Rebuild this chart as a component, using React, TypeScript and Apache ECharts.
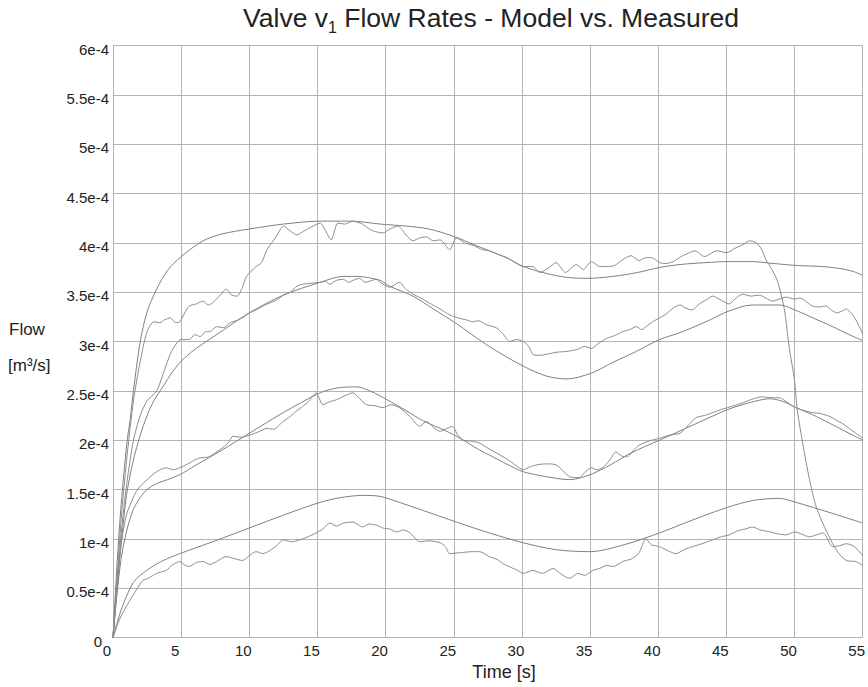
import React, { useEffect, useRef } from "react";
import * as echarts from "echarts";

// Values in units of 1e-4 m^3/s, time in seconds
const model1: number[][] = [[0,0],[0.3,0.75],[0.6,1.35],[1.0,1.95],[1.25,2.2],[1.5,2.5],[2.0,3.0],[2.5,3.3],[3.2,3.53],[4.0,3.72],[5.0,3.86],[6.6,4.02],[8.0,4.09],[10.0,4.14],[12.5,4.19],[15.2,4.22],[17.5,4.22],[19.6,4.19],[21.5,4.17],[23.2,4.14],[25.1,4.06],[26.5,3.98],[27.6,3.92],[29,3.84],[30.1,3.76],[31.8,3.69],[33.3,3.65],[34.7,3.64],[36.7,3.66],[38.5,3.7],[40.1,3.75],[41.6,3.78],[43.5,3.8],[45.2,3.81],[46.9,3.81],[48.5,3.79],[50.2,3.77],[52,3.76],[53.3,3.74],[54.3,3.71],[55,3.67]];

const measured1: number[][] = [[0,0],[0.3,0.6],[0.6,1.2],[1.0,1.8],[1.5,2.4],[2.0,2.8],[2.5,3.1],[3.0,3.2],[3.45,3.19],[3.8,3.22],[4.2,3.24],[4.6,3.19],[4.9,3.2],[5.3,3.3],[5.6,3.36],[6.1,3.38],[6.6,3.41],[7.0,3.37],[7.3,3.39],[7.8,3.46],[8.3,3.53],[8.7,3.47],[9.1,3.46],[9.5,3.55],[9.8,3.66],[10.5,3.76],[10.9,3.8],[11.3,3.93],[12.0,4.07],[12.5,4.17],[13.0,4.12],[13.5,4.08],[14.0,4.12],[14.4,4.15],[15.2,4.2],[15.6,4.12],[16.0,4.03],[16.5,4.2],[17.0,4.19],[17.6,4.22],[18.3,4.19],[18.7,4.15],[19.1,4.12],[19.8,4.1],[20.3,4.14],[20.9,4.17],[21.5,4.08],[22.0,4.02],[22.5,4.05],[23.0,4.06],[23.5,4.02],[24.0,4.03],[24.7,3.93],[25.2,4.05],[25.8,4.0],[26.5,3.97],[27.1,3.93],[27.6,3.92],[28.3,3.88],[28.9,3.85],[29.5,3.8],[30.1,3.76],[30.8,3.76],[31.3,3.7],[32.0,3.75],[32.5,3.8],[33.2,3.7],[34.0,3.78],[34.5,3.73],[35.1,3.81],[35.7,3.76],[36.2,3.76],[36.8,3.77],[37.4,3.83],[38.0,3.87],[38.6,3.82],[39.1,3.85],[39.5,3.85],[40.1,3.8],[40.5,3.79],[41.1,3.81],[41.8,3.87],[42.3,3.9],[42.7,3.92],[43.4,3.86],[44.3,3.92],[45.0,3.9],[45.7,3.95],[46.2,3.98],[46.7,4.02],[47.2,4.0],[47.6,3.93],[47.9,3.83],[48.3,3.74],[48.7,3.63],[49.0,3.49],[49.3,3.29],[49.6,2.95],[50.0,2.61],[50.2,2.31],[50.6,1.97],[51.1,1.6],[51.6,1.32],[52.3,1.09],[53.1,0.88],[53.8,0.78],[54.5,0.77],[55,0.73]];

const model2: number[][] = [[0,0],[0.3,0.5],[0.6,0.95],[1.0,1.45],[1.5,1.8],[2.0,2.05],[2.5,2.25],[3.0,2.4],[3.7,2.55],[4.3,2.68],[5.0,2.8],[6.0,2.92],[7.5,3.06],[10.0,3.29],[12.5,3.47],[15.2,3.6],[16.9,3.66],[18.0,3.66],[18.6,3.65],[19.6,3.62],[20.3,3.56],[22.0,3.46],[23.5,3.33],[25.1,3.19],[27.6,2.95],[30.1,2.75],[31.8,2.65],[33.3,2.62],[35.1,2.68],[36.7,2.79],[38.4,2.9],[40.1,3.02],[41.6,3.09],[43.5,3.2],[45.2,3.31],[46.9,3.37],[48.9,3.37],[50.2,3.31],[51.5,3.23],[52.8,3.15],[54,3.07],[55,3.01]];

const measured2: number[][] = [[0,0],[0.3,0.55],[0.6,1.05],[1.0,1.55],[1.5,2.0],[2.0,2.25],[2.5,2.4],[3.2,2.5],[3.8,2.72],[4.3,2.9],[5.0,3.02],[5.6,3.02],[6.0,3.07],[6.4,3.05],[6.8,3.1],[7.1,3.1],[7.6,3.15],[8.1,3.14],[8.6,3.19],[9.2,3.22],[9.6,3.25],[10.0,3.29],[10.5,3.32],[11.0,3.36],[11.5,3.39],[12.0,3.42],[12.5,3.47],[13.0,3.5],[13.5,3.56],[13.9,3.58],[14.5,3.59],[15.2,3.6],[15.6,3.61],[15.9,3.58],[16.4,3.62],[16.9,3.63],[17.3,3.6],[17.6,3.62],[18.1,3.64],[18.5,3.6],[18.8,3.61],[19.3,3.63],[19.6,3.6],[20.3,3.55],[21.0,3.6],[21.5,3.53],[22.0,3.48],[22.6,3.44],[23.2,3.39],[24.0,3.33],[24.7,3.27],[25.3,3.24],[25.9,3.22],[26.4,3.2],[26.8,3.21],[27.4,3.17],[28.1,3.14],[28.6,3.08],[29.1,3.0],[29.6,3.02],[30.1,3.0],[30.5,2.95],[30.8,2.87],[31.3,2.86],[31.8,2.87],[32.5,2.89],[33.3,2.9],[34.1,2.92],[34.6,2.95],[35.1,2.93],[35.6,2.98],[36.2,3.03],[36.8,3.06],[37.4,3.1],[37.9,3.12],[38.4,3.15],[38.8,3.12],[39.1,3.15],[39.6,3.2],[40.1,3.24],[40.6,3.28],[41.1,3.34],[41.6,3.37],[42.0,3.34],[42.5,3.32],[43.0,3.38],[43.5,3.42],[44.0,3.46],[44.6,3.42],[45.2,3.38],[45.7,3.44],[46.2,3.48],[46.8,3.46],[47.4,3.47],[47.9,3.44],[48.4,3.41],[48.9,3.43],[49.4,3.45],[50.0,3.43],[50.4,3.44],[50.9,3.4],[51.3,3.36],[51.8,3.35],[52.3,3.36],[52.7,3.32],[53.1,3.29],[53.5,3.31],[53.8,3.33],[54.2,3.28],[54.5,3.22],[55.0,3.08]];

const model3: number[][] = [[0,0],[0.3,0.45],[0.6,0.8],[1.0,1.08],[1.5,1.3],[2.0,1.42],[2.5,1.5],[3.2,1.56],[4.0,1.6],[4.9,1.65],[6.0,1.74],[8.0,1.9],[10.0,2.07],[12.5,2.28],[15.2,2.48],[16.5,2.53],[17.9,2.54],[19.0,2.49],[20.1,2.41],[21.5,2.3],[22.7,2.2],[24.0,2.12],[25.2,2.04],[26.9,1.9],[27.6,1.85],[29,1.75],[30.1,1.68],[31.8,1.63],[33.5,1.6],[35.0,1.65],[36.5,1.75],[38,1.87],[40.1,2.0],[42.5,2.15],[45.1,2.31],[46.7,2.38],[48.2,2.42],[49.2,2.39],[50.1,2.33],[51.3,2.26],[52.6,2.17],[54,2.07],[55,2.0]];

const measured3: number[][] = [[0,0],[0.3,0.55],[0.6,0.95],[1.0,1.25],[1.5,1.42],[1.8,1.5],[2.5,1.6],[3.2,1.68],[3.9,1.72],[4.4,1.7],[4.9,1.72],[5.5,1.76],[6.0,1.8],[6.4,1.82],[7.0,1.83],[7.6,1.88],[8.1,1.93],[8.5,1.98],[8.8,2.04],[9.4,2.03],[10.0,2.05],[10.6,2.08],[11.3,2.12],[11.8,2.11],[12.4,2.18],[13.0,2.24],[13.5,2.3],[13.9,2.34],[14.4,2.4],[14.9,2.48],[15.4,2.36],[15.9,2.39],[16.4,2.41],[17.0,2.45],[17.6,2.48],[18.1,2.42],[18.6,2.36],[19.2,2.35],[19.8,2.33],[20.4,2.36],[21.0,2.33],[21.8,2.24],[22.5,2.14],[23.0,2.19],[23.5,2.13],[24.0,2.09],[24.5,2.12],[24.9,2.14],[25.3,2.05],[25.7,2.0],[26.3,1.99],[26.9,1.97],[27.5,1.92],[28.0,1.88],[28.4,1.85],[29.0,1.8],[29.5,1.75],[30.1,1.7],[30.6,1.73],[31.1,1.75],[31.8,1.76],[32.5,1.75],[33.0,1.69],[33.5,1.63],[34.2,1.62],[34.6,1.67],[35.1,1.72],[35.5,1.7],[35.9,1.72],[36.4,1.79],[36.9,1.88],[37.3,1.84],[37.7,1.83],[38.2,1.9],[38.6,1.95],[39.3,1.99],[40.1,2.02],[40.8,2.05],[41.6,2.07],[42.2,2.15],[42.8,2.23],[43.4,2.25],[44.0,2.28],[44.6,2.31],[45.1,2.33],[45.8,2.36],[46.4,2.39],[47.0,2.42],[47.6,2.44],[48.2,2.43],[48.9,2.43],[49.5,2.38],[50.1,2.33],[50.7,2.3],[51.3,2.28],[51.9,2.27],[52.6,2.24],[53.1,2.2],[53.5,2.17],[54.2,2.1],[55.0,2.02]];

const model4: number[][] = [[0,0],[0.3,0.15],[0.6,0.28],[1.0,0.42],[1.5,0.56],[2.0,0.63],[3.0,0.73],[4.0,0.8],[4.9,0.85],[7.5,0.98],[10.0,1.11],[12.5,1.24],[15.2,1.37],[16.8,1.42],[18.3,1.44],[19.6,1.43],[21,1.37],[22.7,1.29],[25.2,1.17],[27.6,1.06],[30.1,0.96],[32.5,0.89],[35.0,0.87],[37.5,0.94],[40.1,1.06],[42.5,1.19],[45.1,1.32],[47,1.39],[48.9,1.41],[50.1,1.37],[52.5,1.27],[55,1.16]];

const measured4: number[][] = [[0,0],[0.3,0.12],[0.6,0.22],[1.0,0.32],[1.25,0.38],[1.7,0.48],[2.2,0.58],[2.6,0.6],[3.2,0.65],[3.9,0.68],[4.4,0.74],[4.9,0.77],[5.3,0.73],[5.6,0.72],[6.1,0.76],[6.6,0.77],[7.1,0.74],[7.6,0.77],[8.3,0.82],[8.9,0.8],[9.5,0.78],[10.0,0.83],[10.5,0.87],[11.0,0.85],[11.5,0.88],[12.0,0.93],[12.5,0.99],[13.1,0.97],[13.7,0.99],[14.3,1.02],[14.9,1.06],[15.4,1.1],[15.9,1.16],[16.4,1.13],[16.9,1.16],[17.6,1.17],[17.9,1.15],[18.3,1.12],[18.8,1.15],[19.3,1.14],[19.8,1.11],[20.3,1.1],[20.8,1.07],[21.3,1.09],[21.8,1.06],[22.5,0.97],[23.2,0.98],[24.0,0.96],[24.4,0.92],[24.7,0.85],[25.5,0.86],[26.4,0.87],[26.9,0.87],[27.6,0.82],[28.2,0.79],[28.6,0.75],[29.2,0.71],[29.7,0.68],[30.1,0.65],[30.8,0.68],[31.5,0.65],[32.3,0.7],[32.9,0.64],[33.5,0.6],[34.1,0.65],[34.6,0.63],[35.2,0.68],[35.7,0.7],[36.2,0.73],[36.7,0.72],[37.4,0.77],[38.1,0.8],[38.6,0.86],[39.1,1.0],[39.5,0.94],[40.1,0.92],[40.7,0.88],[41.3,0.85],[41.9,0.89],[42.5,0.92],[43.2,0.95],[44.0,0.99],[44.6,1.02],[45.2,1.04],[45.8,1.08],[46.4,1.1],[46.9,1.12],[47.5,1.09],[48.2,1.07],[48.8,1.05],[49.4,1.04],[50.0,1.07],[50.5,1.05],[51.1,1.02],[51.6,1.04],[52.1,1.06],[52.8,0.92],[53.3,0.93],[53.8,0.95],[54.3,0.93],[54.7,0.88],[55.0,0.83]];

const seriesList: { name: string; data: number[][]; measured: boolean }[] = [
  { name: "Model 1", data: model1, measured: false },
  { name: "Measured 1", data: measured1, measured: true },
  { name: "Model 2", data: model2, measured: false },
  { name: "Measured 2", data: measured2, measured: true },
  { name: "Model 3", data: model3, measured: false },
  { name: "Measured 3", data: measured3, measured: true },
  { name: "Model 4", data: model4, measured: false },
  { name: "Measured 4", data: measured4, measured: true },
];

const FONT = "'Liberation Sans', Arial, sans-serif";
const TEXT = "#222";
const GRID = "#b4b4b4";
const LINE_MODEL = "#808080";
const LINE_MEAS = "#8c8c8c";

export default function App() {
  const ref = useRef<HTMLDivElement>(null);
  useEffect(() => {
    if (!ref.current) return;
    const chart = echarts.init(ref.current, undefined, { renderer: "svg" });
    chart.setOption({
      animation: false,
      backgroundColor: "#fff",
      grid: { left: 113, right: 2, top: 45.5, bottom: 49.5, containLabel: false },
      xAxis: {
        type: "value",
        min: 0,
        max: 55,
        interval: 5,
        axisLine: { show: true, lineStyle: { color: GRID, width: 1 } },
        axisTick: { show: false },
        splitLine: { show: true, lineStyle: { color: GRID, width: 1 } },
        axisLabel: {
          fontFamily: FONT,
          fontSize: 15,
          color: TEXT,
          margin: 5,
          padding: [0, 12, 0, 0],
        },
      },
      yAxis: {
        type: "value",
        min: 0,
        max: 6,
        interval: 0.5,
        axisLine: { show: true, lineStyle: { color: GRID, width: 1 } },
        axisTick: { show: false },
        splitLine: { show: true, lineStyle: { color: GRID, width: 1 } },
        axisLabel: {
          fontFamily: FONT,
          fontSize: 15,
          color: TEXT,
          margin: 4,
          padding: [7, 0, 0, 0],
          formatter: (v: number) => (v === 0 ? "{z|0}" : `${v}e-4`),
          rich: {
            z: { fontFamily: FONT, fontSize: 15, color: TEXT, padding: [0, 7, 0, 0] },
          },
        },
      },
      series: seriesList.map((s) => ({
        name: s.name,
        type: "line",
        data: s.data,
        showSymbol: false,
        symbol: "none",
        clip: true,
        smooth: s.measured ? 0.25 : 0.3,
        lineStyle: { color: s.measured ? LINE_MEAS : LINE_MODEL, width: 1 },
        emphasis: { disabled: true },
      })),
      graphic: [
        {
          type: "text",
          x: 491,
          y: 1,
          style: {
            text: "{a|Valve v}{s|1}{a| Flow Rates - Model vs. Measured}",
            align: "center",
            verticalAlign: "top",
            rich: {
              a: { fontFamily: FONT, fontSize: 26.5, fill: TEXT, lineHeight: 34 },
              s: { fontFamily: FONT, fontSize: 16, fill: TEXT, lineHeight: 14, verticalAlign: "bottom" },
            },
          },
        },
        {
          type: "text",
          x: 9,
          y: 329.5,
          style: { text: "Flow", fontFamily: FONT, fontSize: 17, fill: TEXT, align: "left", verticalAlign: "middle" },
        },
        {
          type: "text",
          x: 8,
          y: 365,
          style: { text: "[m³/s]", fontFamily: FONT, fontSize: 17, fill: TEXT, align: "left", verticalAlign: "middle" },
        },
        {
          type: "text",
          x: 504,
          y: 672,
          style: { text: "Time [s]", fontFamily: FONT, fontSize: 18, fill: TEXT, align: "center", verticalAlign: "middle" },
        },
      ],
    });
    return () => chart.dispose();
  }, []);
  return (
    <div
      ref={ref}
      style={{ width: 868, height: 687, position: "absolute", left: 0, top: 0, background: "#fff" }}
    />
  );
}
